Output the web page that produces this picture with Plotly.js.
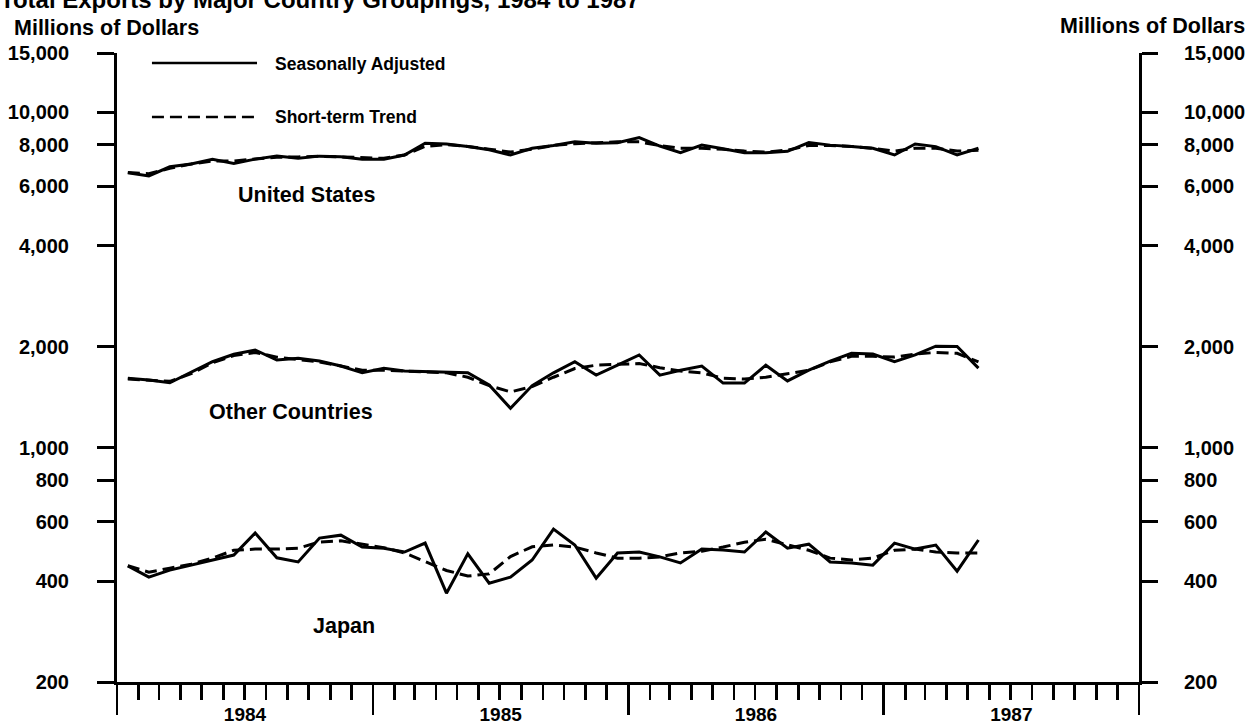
<!DOCTYPE html>
<html>
<head>
<meta charset="utf-8">
<script src="https://cdn.plot.ly/plotly-3.0.1.min.js"></script>
<style>
  html, body { margin: 0; padding: 0; background: #fff; }
  #chart { width: 1250px; height: 726px; }
</style>
</head>
<body>
<div id="chart"></div>
<script>
// Months (Jan 1984 – May 1987)
const months = [
  '1984-01','1984-02','1984-03','1984-04','1984-05','1984-06','1984-07','1984-08','1984-09','1984-10','1984-11','1984-12',
  '1985-01','1985-02','1985-03','1985-04','1985-05','1985-06','1985-07','1985-08','1985-09','1985-10','1985-11','1985-12',
  '1986-01','1986-02','1986-03','1986-04','1986-05','1986-06','1986-07','1986-08','1986-09','1986-10','1986-11','1986-12',
  '1987-01','1987-02','1987-03','1987-04','1987-05'
];

// United States (millions of dollars)
const usAdjusted = [6590, 6450, 6870, 7000, 7230, 7030, 7240, 7390, 7290, 7390, 7360, 7230,
                    7230, 7450, 8070, 8030, 7900, 7720, 7450, 7800, 7950, 8150, 8070, 8100,
                    8390, 7920, 7570, 7970, 7770, 7570, 7570, 7640, 8110, 7970, 7890, 7800,
                    7450, 8030, 7890, 7450, 7800];
const usTrend    = [6600, 6550, 6800, 7000, 7150, 7150, 7250, 7330, 7350, 7380, 7350, 7300,
                    7280, 7450, 7900, 8000, 7900, 7750, 7600, 7750, 7950, 8050, 8100, 8150,
                    8150, 7950, 7800, 7800, 7750, 7650, 7600, 7700, 7950, 7950, 7900, 7800,
                    7650, 7800, 7800, 7650, 7700];

// Other Countries
const ocAdjusted = [1608, 1590, 1560, 1680, 1802, 1896, 1953, 1823, 1845, 1810, 1750, 1670,
                    1722, 1690, 1685, 1675, 1670, 1536, 1309, 1530, 1670, 1802, 1644, 1760,
                    1888, 1644, 1700, 1750, 1556, 1556, 1760, 1580, 1700, 1810, 1910, 1900,
                    1802, 1888, 2005, 2000, 1725];
const ocTrend    = [1600, 1590, 1575, 1660, 1790, 1880, 1920, 1860, 1830, 1800, 1750, 1700,
                    1700, 1690, 1680, 1670, 1620, 1530, 1465, 1520, 1620, 1720, 1760, 1770,
                    1780, 1730, 1690, 1670, 1610, 1600, 1620, 1660, 1700, 1800, 1870, 1870,
                    1860, 1900, 1920, 1910, 1800];

// Japan
const jpAdjusted = [444, 411, 431, 446, 462, 478, 556, 469, 456, 537, 548, 505,
                    501, 488, 519, 368, 482, 394, 411, 462, 571, 512, 408, 485,
                    488, 472, 453, 498, 495, 488, 560, 501, 515, 456, 453, 446,
                    519, 498, 512, 428, 530];
const jpTrend    = [444, 425, 437, 449, 468, 494, 498, 498, 501, 523, 527, 516,
                    503, 485, 456, 430, 414, 420, 473, 506, 512, 505, 485, 468,
                    468, 472, 485, 491, 505, 522, 533, 512, 494, 468, 462, 468,
                    494, 498, 488, 485, 485];

// Axis ticks
const yTickVals = [200, 400, 600, 800, 1000, 2000, 4000, 6000, 8000, 10000, 15000];
const yTickText = ['200', '400', '600', '800', '1,000', '2,000', '4,000', '6,000', '8,000', '10,000', '15,000'];
const seriesLabels = ['United States', 'Other Countries', 'Japan'];
const legendLabels = ['Seasonally Adjusted', 'Short-term Trend'];

const FONT = 'Liberation Sans, Arial, Helvetica, sans-serif';
const solid = { color: '#000', width: 3, dash: 'solid' };
const dashed = { color: '#000', width: 3, dash: '12px,6px' };

function tr(y, line, yaxis) {
  return {
    type: 'scatter', mode: 'lines', x: months, y: y,
    xperiod: 'M1', xperiodalignment: 'middle',
    line: line, hoverinfo: 'skip', showlegend: false, yaxis: yaxis || 'y'
  };
}

const data = [
  tr(usTrend, dashed), tr(usAdjusted, solid),
  tr(ocTrend, dashed), tr(ocAdjusted, solid),
  tr(jpTrend, dashed, 'y2'), tr(jpAdjusted, solid)
];

const yRange = [Math.log10(200), Math.log10(15000)];
const yCommon = {
  type: 'log', range: yRange, tickmode: 'array', tickvals: yTickVals, ticktext: yTickText,
  ticks: 'outside', tickwidth: 3, tickcolor: '#000',
  showline: true, linewidth: 3, linecolor: '#000', showgrid: false, zeroline: false,
  tickfont: { family: FONT, size: 20, color: '#000', weight: 'bold' }, fixedrange: true
};

const layout = {
  width: 1250, height: 726,
  margin: { l: 117, r: 111, t: 53, b: 44 },
  paper_bgcolor: '#fff', plot_bgcolor: '#fff',
  showlegend: false,
  title: {
    text: 'Total Exports by Major Country Groupings, 1984 to 1987',
    font: { family: FONT, size: 24, color: '#000', weight: 'bold' },
    x: 0, xref: 'container', xanchor: 'left',
    y: 1, yref: 'container', yanchor: 'middle'
  },
  xaxis: {
    type: 'date', range: ['1984-01-01', '1988-01-01'],
    tick0: '1984-01-01', dtick: 'M12', tickformat: '%Y', ticklabelmode: 'period',
    ticks: 'outside', ticklen: 30, tickwidth: 2.5, tickcolor: '#000',
    ticklabelstandoff: -17,
    minor: { dtick: 'M1', tick0: '1984-01-01', ticks: 'outside', ticklen: 15, tickwidth: 2.5, tickcolor: '#000', showgrid: false },
    showline: true, linewidth: 3, linecolor: '#000', showgrid: false, zeroline: false,
    tickfont: { family: FONT, size: 19, color: '#000', weight: 'bold' }, fixedrange: true
  },
  yaxis: Object.assign({}, yCommon, { side: 'left', ticklen: 17, ticklabelstandoff: 24 }),
  yaxis2: Object.assign({}, yCommon, { side: 'right', overlaying: 'y', anchor: 'x', ticklen: 16, ticklabelstandoff: 22 }),
  shapes: [
    { type: 'line', xref: 'paper', yref: 'paper', x0: 0.0342, x1: 0.137, y0: 0.9841, y1: 0.9841,
      line: { color: '#000', width: 2.5, dash: 'solid' } },
    { type: 'line', xref: 'paper', yref: 'paper', x0: 0.0342, x1: 0.137, y0: 0.8983, y1: 0.8983,
      line: { color: '#000', width: 2.5, dash: '12px,6px' } }
  ],
  annotations: [
    { text: 'Millions of Dollars', xref: 'paper', yref: 'paper', x: -0.1027, y: 1.0405,
      xanchor: 'left', yanchor: 'middle', showarrow: false,
      font: { family: FONT, size: 21.5, color: '#000', weight: 'bold' } },
    { text: 'Millions of Dollars', xref: 'paper', yref: 'paper', x: 1.1057, y: 1.0437,
      xanchor: 'right', yanchor: 'middle', showarrow: false,
      font: { family: FONT, size: 21.5, color: '#000', weight: 'bold' } },
    { text: legendLabels[0], xref: 'paper', yref: 'paper', x: 0.1526, y: 0.9833,
      xanchor: 'left', yanchor: 'middle', showarrow: false,
      font: { family: FONT, size: 17.5, color: '#000', weight: 'bold' } },
    { text: legendLabels[1], xref: 'paper', yref: 'paper', x: 0.1526, y: 0.8983,
      xanchor: 'left', yanchor: 'middle', showarrow: false,
      font: { family: FONT, size: 17.5, color: '#000', weight: 'bold' } },
    { text: seriesLabels[0], xref: 'paper', yref: 'paper', x: 0.185, y: 0.7743,
      xanchor: 'center', yanchor: 'middle', showarrow: false,
      font: { family: FONT, size: 21.5, color: '#000', weight: 'bold' } },
    { text: seriesLabels[1], xref: 'paper', yref: 'paper', x: 0.1703, y: 0.430,
      xanchor: 'center', yanchor: 'middle', showarrow: false,
      font: { family: FONT, size: 21.5, color: '#000', weight: 'bold' } },
    { text: seriesLabels[2], xref: 'paper', yref: 'paper', x: 0.2221, y: 0.0898,
      xanchor: 'center', yanchor: 'middle', showarrow: false,
      font: { family: FONT, size: 21.5, color: '#000', weight: 'bold' } }
  ]
};

Plotly.newPlot('chart', data, layout, { displayModeBar: false, staticPlot: true });
</script>
</body>
</html>
